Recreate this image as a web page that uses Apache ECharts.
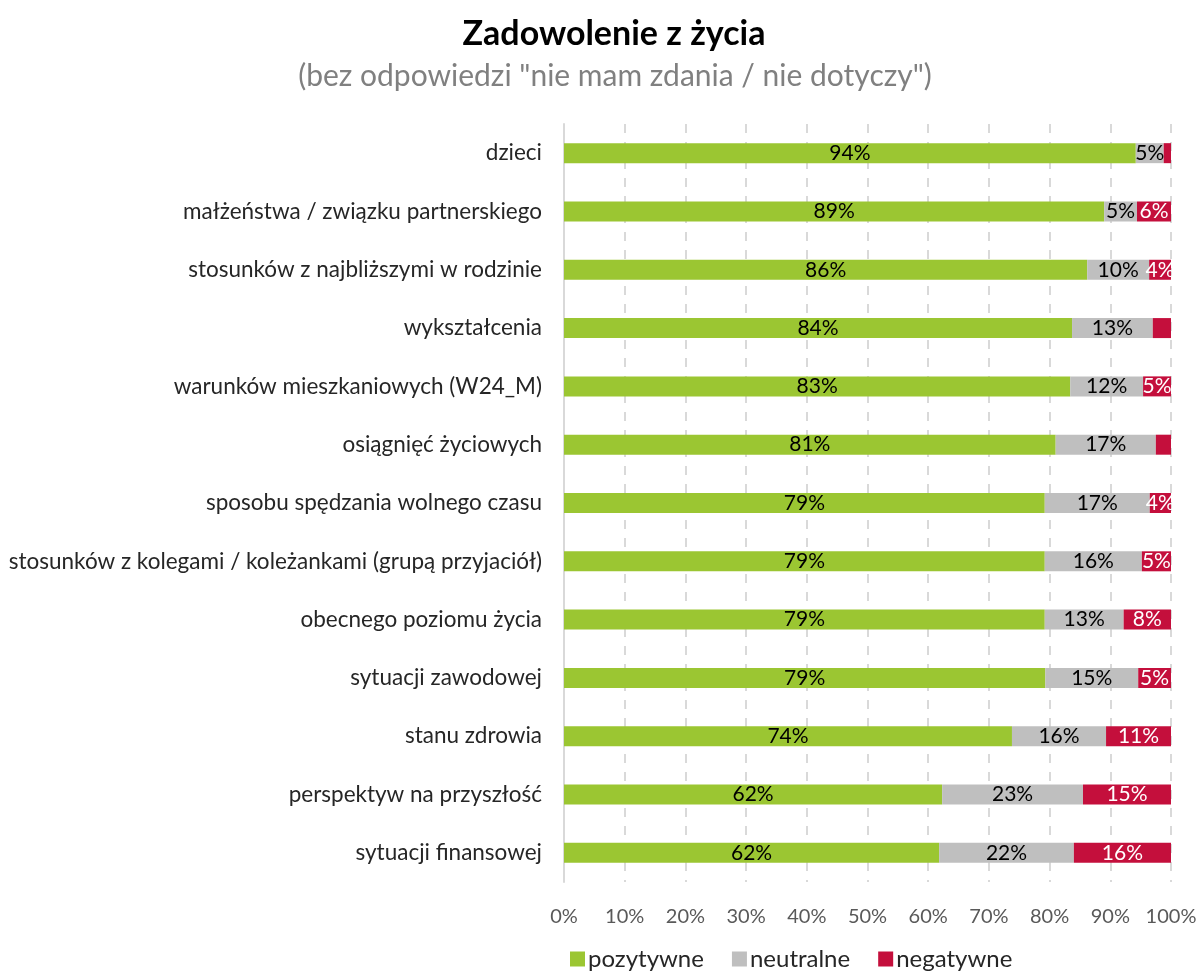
<!DOCTYPE html>
<html lang="pl" style="height: 100%">
<head>
  <meta charset="utf-8">
</head>
<body style="height: 100%; margin: 0; background: #fff">
  <div id="container" style="width: 1201px; height: 976px"></div>
  <script type="text/javascript" src="https://cdn.jsdelivr.net/npm/echarts@6/dist/echarts.min.js"></script>
  <script type="text/javascript">

    // kategorie od góry do dołu
    var categories = [
      'dzieci',
      'małżeństwa / związku partnerskiego',
      'stosunków z najbliższymi w rodzinie',
      'wykształcenia',
      'warunków mieszkaniowych (W24_M)',
      'osiągnięć życiowych',
      'sposobu spędzania wolnego czasu',
      'stosunków z kolegami / koleżankami (grupą przyjaciół)',
      'obecnego poziomu życia',
      'sytuacji zawodowej',
      'stanu zdrowia',
      'perspektyw na przyszłość',
      'sytuacji finansowej'
    ];
    var pozytywne = [94.2, 89.0, 86.2, 83.7, 83.4, 81.0, 79.2, 79.2, 79.2, 79.3, 73.8, 62.3, 61.8];
    var neutralne = [4.6, 5.4, 10.2, 13.3, 12.0, 16.5, 17.3, 16.0, 13.0, 15.3, 15.5, 23.2, 22.2];
    var negatywne = [1.2, 5.6, 3.6, 3.0, 4.6, 2.5, 3.5, 4.8, 7.8, 5.4, 10.7, 14.5, 16.0];
    var xTicks = [0, 10, 20, 30, 40, 50, 60, 70, 80, 90, 100];

    var font = 'Lato, "Open Sans", sans-serif';

    var dom = document.getElementById('container');
    var myChart = echarts.init(dom, null, { renderer: 'canvas' });

    function label(color) {
      return {
        show: true,
        position: 'inside',
        color: color,
        fontFamily: font,
        fontSize: 21,
        formatter: function (p) {
          return p.value < 3.4 ? '' : Math.round(p.value) + '%';
        }
      };
    }

    var option = {
      animation: false,
      title: [
        {
          text: 'Zadowolenie z życia',
          left: 609, top: 12, textAlign: 'center',
          textStyle: { fontFamily: font, fontSize: 34, fontWeight: 'bold', color: '#000' }
        },
        {
          text: '(bez odpowiedzi "nie mam zdania / nie dotyczy")',
          left: 610, top: 56, textAlign: 'center',
          textStyle: { fontFamily: font, fontSize: 30, fontWeight: 'normal', color: '#808080' }
        }
      ],
      legend: {
        bottom: 0,
        left: 565,
        itemWidth: 15,
        itemHeight: 15,
        itemGap: 28,
        icon: 'rect',
        textStyle: { fontFamily: font, fontSize: 24, color: '#262626', padding: [0, 0, 0, -2] },
        data: ['pozytywne', 'neutralne', 'negatywne']
      },
      grid: { left: 564, right: 30, top: 124, bottom: 94, containLabel: false },
      xAxis: {
        type: 'value',
        min: 0, max: 100, interval: 10,
        axisLine: { show: false },
        axisTick: { show: false },
        splitLine: { show: true, lineStyle: { color: '#d9d9d9', width: 2, type: [9, 9] } },
        axisLabel: {
          margin: 25,
          fontFamily: font, fontSize: 20, color: '#595959',
          formatter: function (v) { return xTicks.indexOf(v) >= 0 ? v + '%' : ''; }
        }
      },
      yAxis: {
        type: 'category',
        inverse: true,
        data: categories,
        axisLine: { show: true, lineStyle: { color: '#d9d9d9', width: 2 } },
        axisTick: { show: false },
        axisLabel: { margin: 22, fontFamily: font, fontSize: 22.5, color: '#262626' }
      },
      series: [
        {
          name: 'pozytywne', type: 'bar', stack: 'all', barWidth: 20,
          itemStyle: { color: '#9BC632' },
          label: label('#000'),
          data: pozytywne
        },
        {
          name: 'neutralne', type: 'bar', stack: 'all', barWidth: 20,
          itemStyle: { color: '#BFBFBF' },
          label: label('#000'),
          data: neutralne
        },
        {
          name: 'negatywne', type: 'bar', stack: 'all', barWidth: 20,
          itemStyle: { color: '#C40F3C' },
          label: label('#fff'),
          data: negatywne
        }
      ]
    };

    myChart.setOption(option);
    window.addEventListener('resize', myChart.resize);
  </script>
</body>
</html>
